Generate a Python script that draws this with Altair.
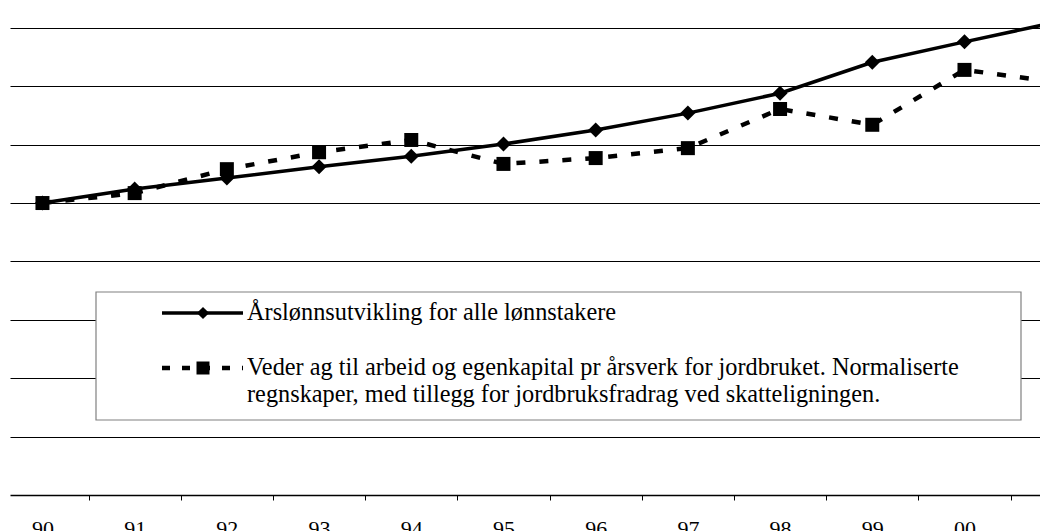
import json
import altair as alt
import pandas as pd

# ---- data ----
years = ["90", "91", "92", "93", "94", "95", "96", "97", "98", "99", "00", "01"]
wages = [100, 102.4, 104.3, 106.2, 108.0, 110.1, 112.5, 115.4, 118.8, 124.1, 127.6, 131.0]
farm = [100, 101.7, 105.8, 108.7, 110.8, 106.7, 107.7, 109.4, 116.1, 113.4, 122.8, 120.7]
series = ["Årslønnsutvikling for alle lønnstakere",
          "Veder ag til arbeid og egenkapital pr årsverk for jordbruket. Normaliserte regnskaper, med tillegg for jordbruksfradrag ved skatteligningen."]
legend_lines = ["Årslønnsutvikling for alle lønnstakere",
                "Veder ag til arbeid og egenkapital pr årsverk for jordbruket. Normaliserte",
                "regnskaper, med tillegg for jordbruksfradrag ved skatteligningen."]
grid_values = [60, 70, 80, 90, 100, 110, 120, 130]

FONT = "'Liberation Serif', 'Times New Roman', Times, serif"

df_w = pd.DataFrame({"i": list(range(len(years))), "year": years, "v": wages, "s": series[0]})
df_f = pd.DataFrame({"i": list(range(len(years))), "year": years, "v": farm, "s": series[1]})

W, H = 1030, 487
xscale = alt.Scale(domain=[-0.352, 10.819], nice=False, zero=False)
yscale = alt.Scale(domain=[50, 133.4], nice=False, zero=False)

label_expr = json.dumps(years) + "[floor(datum.value)]"
xaxis = alt.Axis(values=[k + 0.5 for k in range(len(years))], title=None, grid=False,
                 tickSize=5, tickColor="black", tickWidth=1,
                 domainColor="black", domainWidth=1.5,
                 labelExpr=label_expr, labelOffset=-46.1, labelPadding=18,
                 labelFont=FONT, labelFontSize=22, labelColor="black",
                 labelFlush=False, labelOverlap=False, labelBound=False)
yaxis = alt.Axis(values=grid_values, title=None, labels=False, ticks=False, domain=False,
                 grid=True, gridColor="black", gridWidth=1)

x = alt.X("i:Q", scale=xscale, axis=xaxis)
y = alt.Y("v:Q", scale=yscale, axis=yaxis)

dash = [9, 14]

w_line = alt.Chart(df_w).mark_line(color="black", strokeWidth=3.5, clip=True).encode(x=x, y=y)
w_pts = alt.Chart(df_w).mark_point(shape="diamond", filled=True, color="black", size=225, opacity=1, clip=True).encode(x=x, y=y)
f_line = alt.Chart(df_f).mark_line(color="black", strokeWidth=4.5, strokeDash=dash, clip=True).encode(x=x, y=y)
f_pts = alt.Chart(df_f).mark_point(shape="square", filled=True, color="black", size=196, opacity=1, clip=True).encode(x=x, y=y)

one = alt.Data(values=[{"k": 0}])

box = alt.Chart(one).mark_rect(fill="white", stroke="#808080", strokeWidth=1.2).encode(
    x=alt.value(86), x2=alt.value(1011), y=alt.value(284), y2=alt.value(412))

lg1_line = alt.Chart(one).mark_rule(color="black", strokeWidth=3.5).encode(
    x=alt.value(152), x2=alt.value(233), y=alt.value(305))
lg1_pt = alt.Chart(one).mark_point(shape="diamond", filled=True, color="black", size=150, opacity=1).encode(
    x=alt.value(193), y=alt.value(305))
lg2_line = alt.Chart(one).mark_rule(color="black", strokeWidth=4.5, strokeDash=[8, 12]).encode(
    x=alt.value(152), x2=alt.value(233), y=alt.value(360))
lg2_pt = alt.Chart(one).mark_point(shape="square", filled=True, color="black", size=169, opacity=1).encode(
    x=alt.value(193), y=alt.value(360))

def txt(s, yy):
    return alt.Chart(one).mark_text(align="left", baseline="middle", font=FONT, fontSize=24.3,
                                    color="black").encode(x=alt.value(237), y=alt.value(yy), text=alt.value(s))

chart = alt.layer(
    w_line, w_pts, f_line, f_pts,
    box, lg1_line, lg1_pt, lg2_line, lg2_pt,
    txt(legend_lines[0], 305), txt(legend_lines[1], 360), txt(legend_lines[2], 387),
).properties(
    width=W, height=H,
    autosize=alt.AutoSizeParams(type="none"),
    padding={"left": 2, "top": 0, "right": 0, "bottom": 45},
    background="white",
).configure_view(stroke=None)

chart.save("out.html", embed_options={"renderer": "svg", "actions": False})
